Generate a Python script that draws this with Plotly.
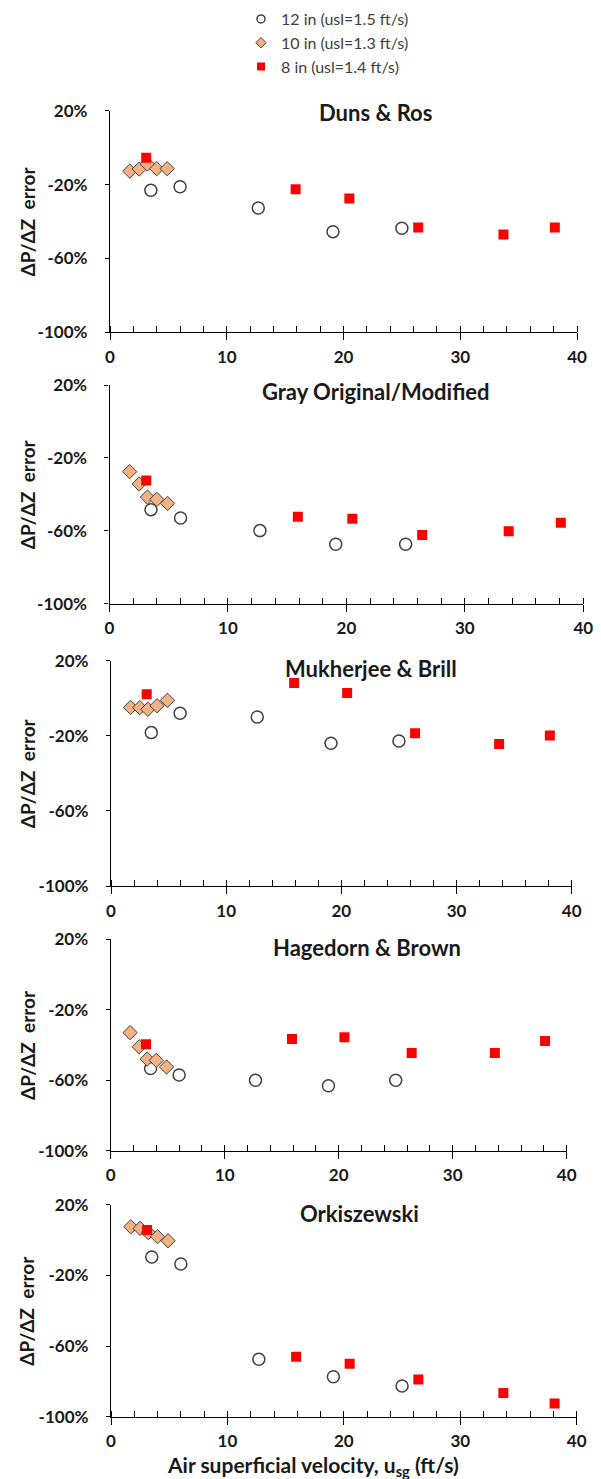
import plotly.graph_objects as go

# The page body has a default 8px margin, so the figure is drawn 8px smaller
# and all screen positions below are converted with that offset.
OFF = 8
SW, SH = 601, 1479
W, H = SW - OFF, SH - OFF


def px_x(x):
    return (x - OFF) / W


def px_y(y):
    return 1 - (y - OFF) / H


# ---------------- data ----------------
series_names = ["12 in (usl=1.5 ft/s)", "10 in (usl=1.3 ft/s)", "8 in (usl=1.4 ft/s)"]

x_12in = [3.5, 6.0, 12.7, 19.1, 25.0]
x_10in = [1.7, 2.5, 3.2, 4.0, 4.9]
x_8in = [3.1, 15.9, 20.5, 26.4, 33.7, 38.1]

panel_titles = ["Duns & Ros", "Gray Original/Modified", "Mukherjee & Brill",
                "Hagedorn & Brown", "Orkiszewski"]

duns_12 = [-23.1, -21.2, -32.7, -45.5, -43.7]
duns_10 = [-12.7, -11.6, -8.9, -11.4, -11.4]
duns_8 = [-5.5, -22.6, -27.5, -43.2, -47.0, -43.2]

gray_12 = [-48.4, -53.0, -59.9, -67.4, -67.4]
gray_10 = [-27.5, -34.3, -41.5, -42.8, -45.0]
gray_8 = [-32.4, -52.3, -53.4, -62.3, -60.3, -55.6]

mukh_12 = [-18.3, -8.0, -10.0, -24.0, -22.8]
mukh_10 = [-4.9, -5.0, -5.9, -4.0, -1.1]
mukh_8 = [2.1, 8.1, 2.8, -18.7, -24.4, -19.8]

hage_12 = [-53.3, -57.0, -60.0, -63.1, -60.0]
hage_10 = [-33.0, -41.0, -48.0, -48.7, -52.5]
hage_8 = [-39.6, -36.6, -35.6, -44.5, -44.5, -37.7]

orki_12 = [-9.6, -13.6, -67.5, -77.4, -82.6]
orki_10 = [7.5, 6.6, 4.2, 1.9, -0.4]
orki_8 = [5.7, -66.0, -70.0, -78.9, -86.6, -92.5]

y_tickvals = [-100, -60, -20, 20]
y_ticktext = ["-100%", "-60%", "-20%", "20%"]
x_tickvals = [0, 10, 20, 30, 40]

panels_data = [
    (duns_12, duns_10, duns_8),
    (gray_12, gray_10, gray_8),
    (mukh_12, mukh_10, mukh_8),
    (hage_12, hage_10, hage_8),
    (orki_12, orki_10, orki_8),
]

# ---------------- layout geometry (screen pixels) ----------------
panel_px = [  # x0, x1, ytop, ybottom
    (110, 577, 110.7, 332.3),
    (109.5, 583.3, 385, 603.7),
    (111, 571.7, 660.7, 886),
    (110.7, 566.7, 939.3, 1150.7),
    (111, 576.7, 1204.7, 1416.7),
]
title_px = [(375, 113), (376, 392), (371, 668), (367, 947), (359, 1213)]

FONT = "Lato, 'Open Sans', sans-serif"
DARK = "#404040"
ORANGE = "#F4B183"
RED = "#FF0000"
TXT = "#1a1a1a"

fig = go.Figure()

for i, (d12, d10, d8) in enumerate(panels_data):
    n = "" if i == 0 else str(i + 1)
    xa, ya = "x" + n, "y" + n
    fig.add_trace(go.Scatter(x=x_12in, y=d12, mode="markers", xaxis=xa, yaxis=ya,
                             showlegend=False,
                             marker=dict(symbol="circle", size=12, color="white",
                                         line=dict(color=DARK, width=1.5))))
    fig.add_trace(go.Scatter(x=x_10in, y=d10, mode="markers", xaxis=xa, yaxis=ya,
                             showlegend=False,
                             marker=dict(symbol="diamond", size=11, color=ORANGE,
                                         line=dict(color=DARK, width=1))))
    fig.add_trace(go.Scatter(x=x_8in, y=d8, mode="markers", xaxis=xa, yaxis=ya,
                             showlegend=False,
                             marker=dict(symbol="square", size=10, color=RED,
                                         line=dict(width=0))))

    x0, x1, yt, yb = panel_px[i]
    axis_common = dict(showline=True, linecolor="black", linewidth=1.3,
                       showgrid=False, zeroline=False,
                       tickfont=dict(family=FONT, size=17, color=TXT, weight="bold"))
    fig.layout["xaxis" + n] = dict(
        domain=[px_x(x0), px_x(x1)], anchor=ya, range=[0, 40],
        tickmode="array", tickvals=x_tickvals, ticktext=[str(v) for v in x_tickvals],
        ticks="outside", ticklen=7, tickcolor="black",
        tickwidth=1.3, ticklabelstandoff=2,
        minor=dict(dtick=2, ticks="inside", ticklen=6, tickcolor="black", tickwidth=1.2),
        **axis_common)
    fig.layout["yaxis" + n] = dict(
        domain=[px_y(yb), px_y(yt)], anchor=xa, range=[-100, 20],
        tickmode="array", tickvals=y_tickvals, ticktext=y_ticktext,
        ticks="outside", ticklen=4,
        tickcolor="black", tickwidth=1.3, ticklabelstandoff=14,
        **axis_common)

    # panel title
    tx, ty = title_px[i]
    fig.add_annotation(text=panel_titles[i], x=px_x(tx), y=px_y(ty),
                       xref="paper", yref="paper", showarrow=False,
                       xanchor="center", yanchor="middle",
                       font=dict(family=FONT, size=22, color=TXT, weight="bold"))
    # y axis title
    fig.add_annotation(text="ΔP/ΔZ  error", x=px_x(27), y=px_y((yt + yb) / 2),
                       xref="paper", yref="paper", showarrow=False, textangle=-90,
                       xanchor="center", yanchor="middle",
                       font=dict(family=FONT, size=19, color=TXT, weight="bold"))

# x axis title (bottom only)
fig.add_annotation(text="Air superficial velocity, u<sub>sg</sub> (ft/s)",
                   x=px_x(313), y=px_y(1466), xref="paper", yref="paper",
                   showarrow=False, xanchor="center", yanchor="middle",
                   font=dict(family=FONT, size=21, color=TXT, weight="bold"))

# legend entries
legend_markers = [
    dict(symbol="circle", size=8, color="white", line=dict(color=DARK, width=1.5)),
    dict(symbol="diamond", size=8, color=ORANGE, line=dict(color=DARK, width=1)),
    dict(symbol="square", size=8, color=RED, line=dict(width=0)),
]
for name, mk in zip(series_names, legend_markers):
    fig.add_trace(go.Scatter(x=[None], y=[None], mode="markers", name=name,
                             marker=mk, xaxis="x", yaxis="y"))

fig.update_layout(
    width=W, height=H, margin=dict(l=0, r=0, t=0, b=0, autoexpand=False),
    paper_bgcolor="white", plot_bgcolor="white",
    showlegend=True,
    legend=dict(x=px_x(241), y=1 + 6 / H, xanchor="left", yanchor="top",
                bgcolor="rgba(0,0,0,0)",
                font=dict(family=FONT, size=16, color=DARK),
                itemwidth=30, tracegroupgap=0),
)

fig.write_html("out.html")
